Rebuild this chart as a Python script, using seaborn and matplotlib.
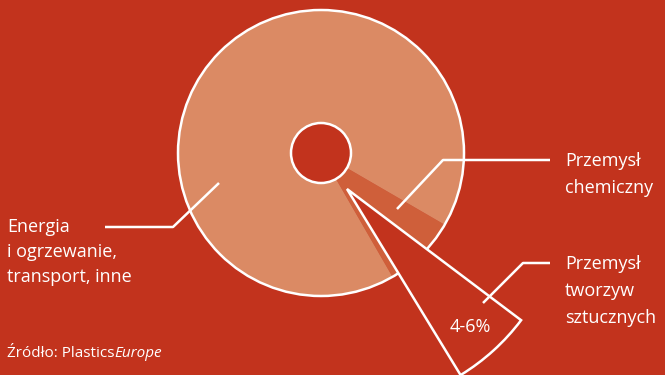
import matplotlib
matplotlib.use("Agg")
import matplotlib.pyplot as plt
import seaborn as sns

# --- colours ---
BG = "#c2331d"
SALMON = "#db8a64"
DARK = "#cf5f3a"
WHITE = "white"

# --- data (shares, %) ---
main_labels = ["Przemysł chemiczny", "Energia, ogrzewanie, transport, inne"]
main_values = [8.3, 91.7]
plastics_value = 6.0            # upper end of the 4-6% range
plastics_text = "4-6%"

energy_lines = ["Energia", "i ogrzewanie,", "transport, inne"]
chem_lines = ["Przemysł", "chemiczny"]
plastics_lines = ["Przemysł", "tworzyw", "sztucznych"]

sns.set_theme(style="white")
plt.rcParams["font.family"] = ["Open Sans", "DejaVu Sans"]

fig = plt.figure(figsize=(6.65, 3.75), dpi=100, facecolor=BG)
ax = fig.add_axes([0, 0, 1, 1])
ax.set_facecolor(BG)

center = (321, 222)
radius = 143

# main pie
wedges, _ = ax.pie(main_values, colors=[DARK, SALMON], startangle=-60,
                   counterclock=True, center=center, radius=radius,
                   wedgeprops=dict(linewidth=0))
for w in wedges:
    w.set_zorder(1)

ax.add_patch(plt.Circle(center, radius, facecolor="none", edgecolor=WHITE,
                        linewidth=1.8, zorder=2))
ax.add_patch(plt.Circle(center, 30, facecolor=BG, edgecolor=WHITE,
                        linewidth=1.8, zorder=3))

# pulled-out, enlarged plastics wedge
pw, _ = ax.pie([plastics_value, 100 - plastics_value], colors=[BG, "none"],
               startangle=-58.6, counterclock=True, center=(347, 186),
               radius=218,
               wedgeprops=dict(edgecolor=WHITE, linewidth=1.8))
pw[0].set_zorder(4)
pw[1].set_visible(False)

ax.set_xlim(0, 665)
ax.set_ylim(0, 375)
ax.set_aspect("equal")
ax.axis("off")

# leader lines
lw = 1.8
ax.plot([219, 173, 105], [192, 148, 148], color=WHITE, lw=lw, zorder=5,
        solid_capstyle="butt")
ax.plot([397, 443, 550], [166, 215, 215], color=WHITE, lw=lw, zorder=5,
        solid_capstyle="butt")
ax.plot([483, 523, 550], [72, 112, 112], color=WHITE, lw=lw, zorder=5,
        solid_capstyle="butt")

fs = 13
for i, line in enumerate(energy_lines):
    ax.text(7, 143 - 25 * i, line, color=WHITE, fontsize=fs, va="baseline",
            ha="left", zorder=6)
for i, line in enumerate(chem_lines):
    ax.text(565, 209 - 27 * i, line, color=WHITE, fontsize=fs, va="baseline",
            ha="left", zorder=6)
for i, line in enumerate(plastics_lines):
    ax.text(565, 106 - 27 * i, line, color=WHITE, fontsize=fs, va="baseline",
            ha="left", zorder=6)

ax.text(470, 48, plastics_text, color=WHITE, fontsize=fs, ha="center",
        va="center", zorder=6)

t = ax.text(7, 18, "Źródło: Plastics", color=WHITE, fontsize=11,
            va="baseline", ha="left", zorder=6)
fig.canvas.draw()
bb = t.get_window_extent()
x_end = ax.transData.inverted().transform((bb.x1, bb.y0))[0]
ax.text(x_end, 18, "Europe", color=WHITE, fontsize=11, style="italic",
        va="baseline", ha="left", zorder=6)

fig.savefig("out.png", dpi=100, facecolor=BG)
